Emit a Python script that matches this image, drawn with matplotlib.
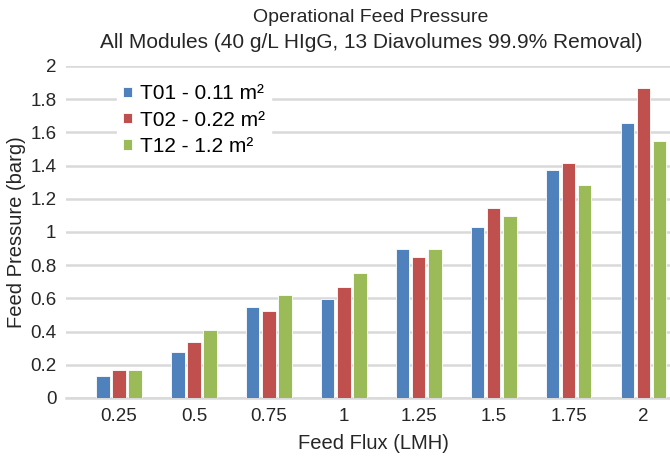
import numpy as np
import matplotlib
matplotlib.use("Agg")
import matplotlib.pyplot as plt

plt.rcParams['font.family'] = ['Liberation Sans', 'DejaVu Sans']

flux = ['0.25', '0.5', '0.75', '1', '1.25', '1.5', '1.75', '2']
t01 = [0.134, 0.277, 0.550, 0.596, 0.895, 1.028, 1.373, 1.656]
t02 = [0.170, 0.337, 0.524, 0.666, 0.851, 1.142, 1.415, 1.867]
t12 = [0.170, 0.407, 0.620, 0.755, 0.895, 1.098, 1.285, 1.550]
labels = ['T01 - 0.11 m²', 'T02 - 0.22 m²', 'T12 - 1.2 m²']
colors = ['#4F81BD', '#C0504D', '#9BBB59']

fig = plt.figure(figsize=(6.7, 4.59), dpi=100)
# plot area runs a bit past the right edge of the picture (cropped original)
ax = fig.add_axes([66 / 670, 1 - 398 / 459, 615 / 670, 332 / 459])

x = np.arange(len(flux))
w = 0.18
offs = [-0.215, 0, 0.215]
for vals, off, c, lab in zip([t01, t02, t12], offs, colors, labels):
    ax.bar(x + off, vals, width=w, color=c, edgecolor='white', linewidth=0.6,
           label=lab, zorder=3)

ax.set_xlim(-0.707, len(flux) - 0.5)
ax.set_ylim(0, 2)
ax.set_yticks(np.arange(0, 2.01, 0.2))
ax.set_yticklabels(['0', '0.2', '0.4', '0.6', '0.8', '1', '1.2', '1.4', '1.6', '1.8', '2'])
ax.set_xticks(x)
ax.set_xticklabels(flux)
ax.grid(axis='y', color='#D9D9D9', linewidth=1.8, zorder=0)
for s in ['top', 'right', 'left']:
    ax.spines[s].set_visible(False)
ax.spines['bottom'].set_color('#D9D9D9')
ax.spines['bottom'].set_linewidth(1.8)
ax.tick_params(axis='both', length=0, labelsize=13.5, colors='#262626', pad=7)

ax.set_xlabel('Feed Flux (LMH)', fontsize=14.5, color='#262626', labelpad=7)
ax.set_ylabel('Feed Pressure (barg)', fontsize=14.5, color='#262626', labelpad=3)
fig.text(0.554, 1 - 18 / 459, 'Operational Feed Pressure', ha='center', va='center',
         fontsize=14, color='#262626')
fig.text(0.554, 1 - 43 / 459, 'All Modules (40 g/L HIgG, 13 Diavolumes 99.9% Removal)',
         ha='center', va='center', fontsize=15, color='#262626')

leg = ax.legend(loc='upper left', bbox_to_anchor=(0.066, 0.995), frameon=True,
                fontsize=15, handlelength=0.4, handleheight=0.4, handletextpad=0.4,
                labelspacing=0.35, borderpad=0.3)
leg.get_frame().set_facecolor('white')
leg.get_frame().set_edgecolor('white')
leg.get_frame().set_alpha(1)
leg.set_zorder(5)

fig.savefig('out.png', dpi=100)
